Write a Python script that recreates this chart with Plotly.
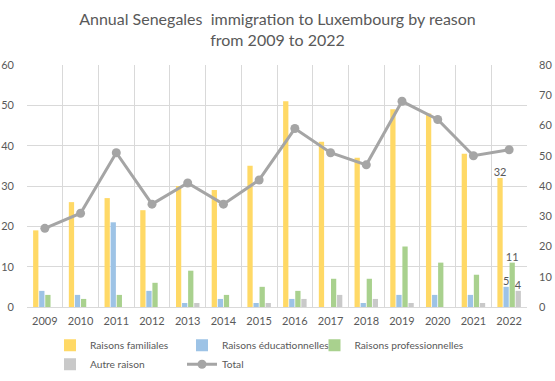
import plotly.graph_objects as go

years = [2009, 2010, 2011, 2012, 2013, 2014, 2015, 2016, 2017, 2018, 2019, 2020, 2021, 2022]
familiales = [19, 26, 27, 24, 30, 29, 35, 51, 41, 37, 49, 48, 38, 32]
educationnelles = [4, 3, 21, 4, 1, 2, 1, 2, 0, 1, 3, 3, 3, 5]
professionnelles = [3, 2, 3, 6, 9, 3, 5, 4, 7, 7, 15, 11, 8, 11]
autre = [0, 0, 0, 0, 1, 0, 1, 2, 3, 2, 1, 0, 1, 4]
total = [26, 31, 51, 34, 41, 34, 42, 59, 51, 47, 68, 62, 50, 52]

title_text = "Annual Senegales  immigration to Luxembourg by reason<br>from 2009 to 2022"
FONT = "Lato"
TXT = "#595959"


def last_label(vals):
    return [str(v) if i == len(vals) - 1 else "" for i, v in enumerate(vals)]


series = [
    ("Raisons familiales", familiales, "#FFD966", "legend"),
    ("Raisons éducationnelles", educationnelles, "#9DC3E6", "legend2"),
    ("Raisons professionnelles", professionnelles, "#A9D18E", "legend3"),
    ("Autre raison", autre, "#C9C9C9", "legend"),
]

fig = go.Figure()
for name, vals, col, leg in series:
    fig.add_trace(go.Bar(
        x=years, y=vals, name=name, marker=dict(color=col, line=dict(width=0)),
        text=last_label(vals), textposition="outside", cliponaxis=False,
        constraintext="none",
        textfont=dict(family=FONT, size=11, color=TXT),
        yaxis="y", legend=leg,
    ))

fig.add_trace(go.Scatter(
    x=years, y=total, name="Total", mode="lines+markers",
    line=dict(color="#A5A5A5", width=3),
    marker=dict(color="#A5A5A5", size=9),
    yaxis="y2", legend="legend2",
))

# horizontal legends with very wide entries, so each entry takes its own row
legend_common = dict(orientation="h", xanchor="left", y=-0.098, yanchor="top",
                     entrywidth=600, entrywidthmode="pixels",
                     font=dict(family=FONT, size=10.2, color=TXT),
                     traceorder="normal", itemwidth=30,
                     bgcolor="rgba(0,0,0,0)")

fig.update_layout(
    width=555, height=381,
    margin=dict(l=27, r=28, t=65, b=74, autoexpand=False),
    paper_bgcolor="white", plot_bgcolor="white",
    font=dict(family=FONT, size=11, color=TXT),
    title=dict(text=title_text, x=0.5, xanchor="center", yref="container", y=0.935, yanchor="top",
               font=dict(family=FONT, size=16, color=TXT)),
    barmode="group", bargap=0.32, bargroupgap=0.13,
    showlegend=True,
    legend=dict(x=0.046, **legend_common),
    legend2=dict(x=0.31, **legend_common),
    legend3=dict(x=0.575, **legend_common),
    xaxis=dict(
        range=[2008.5, 2022.5], tickvals=years, ticktext=[str(y) for y in years],
        showgrid=False, zeroline=False, showline=True, linecolor="#D9D9D9", linewidth=1,
        ticks="", tickfont=dict(family=FONT, size=11, color=TXT), automargin=False,
        ticklabelstandoff=4,
        minor=dict(showgrid=True, gridcolor="#D9D9D9", gridwidth=1, tick0=2008.5, dtick=1),
    ),
    yaxis=dict(
        range=[0, 60], dtick=10, showgrid=True, gridcolor="#D9D9D9", gridwidth=1,
        zeroline=False, showline=False, ticks="", ticklabelstandoff=12, automargin=False,
        tickfont=dict(family=FONT, size=11, color=TXT),
    ),
    yaxis2=dict(
        range=[0, 80], dtick=10, overlaying="y", side="right", showgrid=False,
        zeroline=False, showline=False, ticks="", ticklabelstandoff=11, automargin=False,
        tickfont=dict(family=FONT, size=11, color=TXT),
    ),
)

fig.write_html("out.html", config={"displayModeBar": False},
               post_script="document.body.style.margin='0';")
